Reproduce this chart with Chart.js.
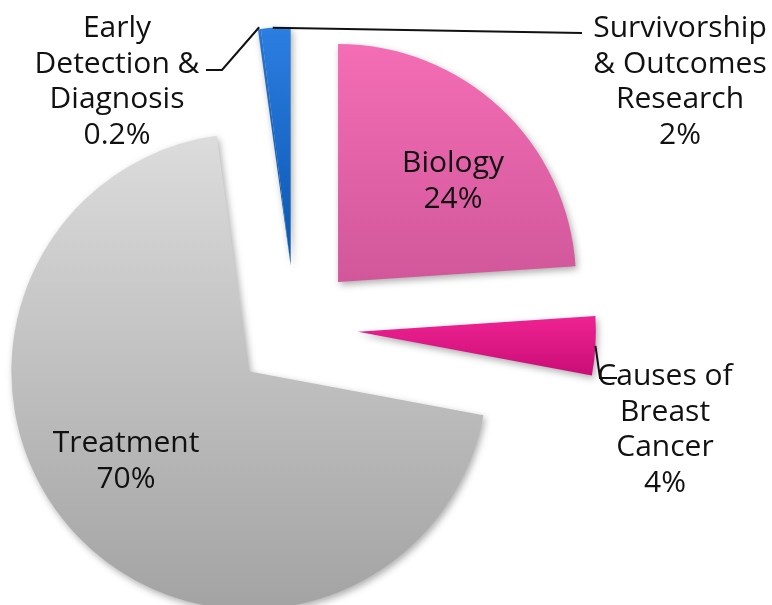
<!DOCTYPE html>
<html><head><meta charset="utf-8">
<script src="https://cdn.jsdelivr.net/npm/chart.js@4/dist/chart.umd.min.js"></script>
<style>html,body{margin:0;padding:0;background:#fff;}#wrap{width:772px;height:605px;}</style>
</head><body><div id="wrap"><canvas id="c" width="772" height="605"></canvas></div>
<script>
// ---- data ----
const categories = ['Biology', 'Causes of Breast Cancer', 'Treatment', 'Early Detection & Diagnosis', 'Survivorship & Outcomes Research'];
const values = [24, 4, 70, 0.2, 2];
const labelLines = [
  ['Biology', '24%'],
  ['Causes of', 'Breast', 'Cancer', '4%'],
  ['Treatment', '70%'],
  ['Early', 'Detection &', 'Diagnosis', '0.2%'],
  ['Survivorship', '& Outcomes', 'Research', '2%']
];

// ---- style ----
const EXPLODE = 63;
const RADIUS = 238;
const explodeGroup = [0, 1, 2, 3, 3]; // slices in the same group move together
const colorStops = [
  ['#F46DB5', '#D1579A'],
  ['#EF2393', '#C90C75'],
  ['#DCDCDC', '#A3A3A3'],
  ['#2C7EE1', '#0A55B0'],
  ['#2C7EE1', '#0A55B0']
];
const labelPos = [[453, 172], [665, 385], [126, 452], [117, 37], [680, 37]];
const LINE_H = 35.5;
const FONT = '30px "Open Sans", "DejaVu Sans", sans-serif';

function angles(data) {
  const total = data.reduce((s, v) => s + v, 0);
  const out = []; let acc = 0;
  data.forEach(v => {
    const a0 = -Math.PI / 2 + acc / total * 2 * Math.PI;
    acc += v;
    out.push([a0, -Math.PI / 2 + acc / total * 2 * Math.PI]);
  });
  return out;
}
function groupMid(ang, i) {
  let lo = Infinity, hi = -Infinity;
  explodeGroup.forEach((g, k) => { if (g === explodeGroup[i]) { lo = Math.min(lo, ang[k][0]); hi = Math.max(hi, ang[k][1]); } });
  return (lo + hi) / 2;
}
function inRange(t, a0, a1) {
  for (let k = -2; k <= 2; k++) { const u = t + 2 * Math.PI * k; if (u >= a0 && u <= a1) return true; }
  return false;
}
function bg(context) {
  const chart = context.chart, i = context.dataIndex;
  if (!chart.chartArea || i === undefined) return colorStops[i || 0][0];
  const a = chart.chartArea;
  const ang = angles(chart.data.datasets[0].data);
  const mid = groupMid(ang, i);
  const y = (a.top + a.bottom) / 2 + Math.sin(mid) * EXPLODE;
  const [a0, a1] = ang[i];
  const ys = [y, y + RADIUS * Math.sin(a0), y + RADIUS * Math.sin(a1)];
  if (inRange(Math.PI / 2, a0, a1)) ys.push(y + RADIUS);
  if (inRange(-Math.PI / 2, a0, a1)) ys.push(y - RADIUS);
  const y0 = Math.min(...ys), y1 = Math.max(...ys);
  const grad = chart.ctx.createLinearGradient(0, y0, 0, y1 + 1);
  grad.addColorStop(0, colorStops[i][0]);
  grad.addColorStop(1, colorStops[i][1]);
  return grad;
}

const explodePlugin = {
  id: 'explode',
  afterDatasetsUpdate(chart) {
    const arcs = chart.getDatasetMeta(0).data;
    const ang = arcs.map(a => [a.startAngle, a.endAngle]);
    arcs.forEach((arc, i) => {
      const mid = groupMid(ang, i);
      arc.x += Math.cos(mid) * EXPLODE;
      arc.y += Math.sin(mid) * EXPLODE;
    });
  },
  beforeDatasetsDraw(chart) {
    const ctx = chart.ctx;
    ctx.save();
    ctx.shadowColor = 'rgba(0,0,0,0.32)';
    ctx.shadowBlur = 7;
    ctx.shadowOffsetX = 2;
    ctx.shadowOffsetY = 3;
  },
  afterDatasetsDraw(chart) {
    const ctx = chart.ctx;
    ctx.restore();
    const arcs = chart.getDatasetMeta(0).data;
    const pt = (arc, frac, r) => {
      const t = arc.startAngle + (arc.endAngle - arc.startAngle) * frac;
      return [arc.x + Math.cos(t) * r, arc.y + Math.sin(t) * r];
    };
    // leader lines
    ctx.save();
    ctx.strokeStyle = '#111';
    ctx.lineWidth = 2;
    const leaders = [
      [pt(arcs[4], 0.4, arcs[4].outerRadius), [582, 33]],
      [pt(arcs[3], 0.5, arcs[3].outerRadius + 2), [222, 70], [206, 70]],
      [pt(arcs[1], 0.5, arcs[1].outerRadius), [600, 378], [617, 378]]
    ];
    leaders.forEach(l => {
      ctx.beginPath();
      ctx.moveTo(l[0][0], l[0][1]);
      for (let k = 1; k < l.length; k++) ctx.lineTo(l[k][0], l[k][1]);
      ctx.stroke();
    });
    // labels
    ctx.fillStyle = '#111';
    ctx.font = FONT;
    ctx.textAlign = 'center';
    ctx.textBaseline = 'alphabetic';
    labelLines.forEach((lines, i) => {
      lines.forEach((s, j) => ctx.fillText(s, labelPos[i][0], labelPos[i][1] + j * LINE_H));
    });
    ctx.restore();
  }
};

new Chart(document.getElementById('c'), {
  type: 'pie',
  data: {
    labels: categories,
    datasets: [{
      data: values,
      backgroundColor: bg,
      borderWidth: 0,
      clip: false
    }]
  },
  options: {
    responsive: false,
    animation: false,
    events: [],
    radius: RADIUS,
    layout: {padding: {left: 2, right: 184, top: 51, bottom: 0}},
    plugins: {legend: {display: false}, tooltip: {enabled: false}, title: {display: false}}
  },
  plugins: [explodePlugin]
});
</script>
</body></html>
